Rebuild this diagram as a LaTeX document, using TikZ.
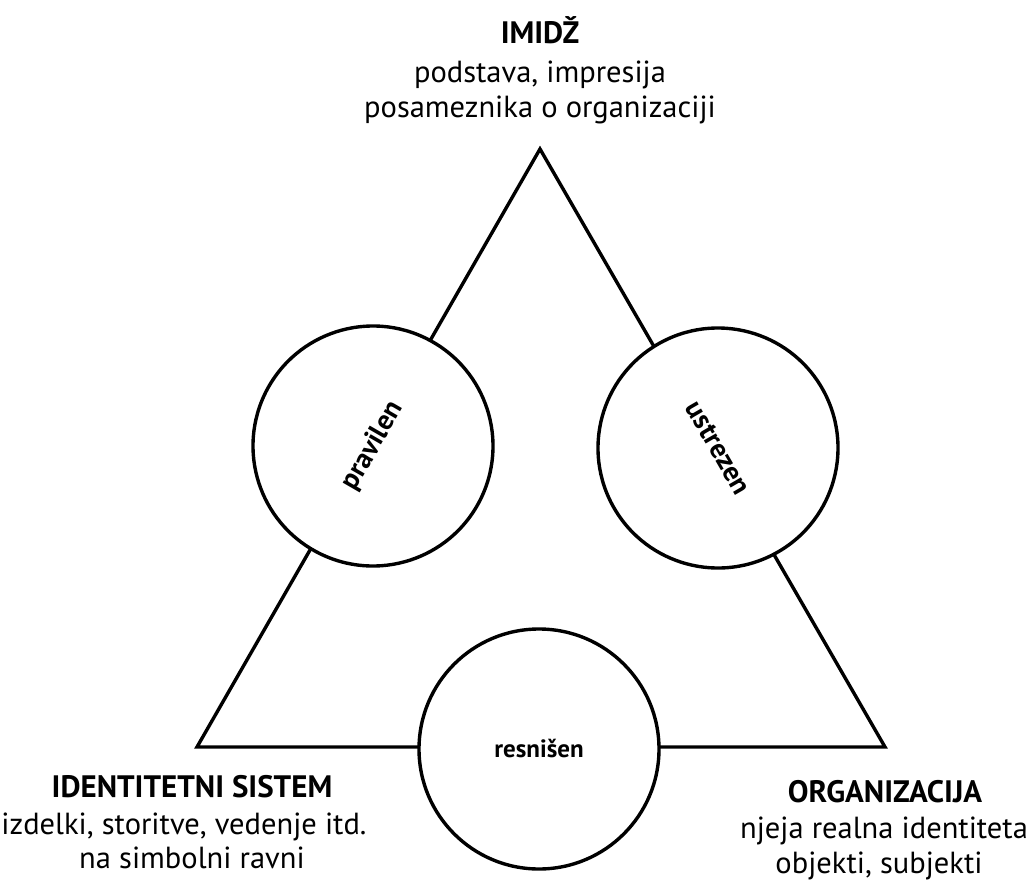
\documentclass[tikz,border=0pt]{standalone}
\usepackage{fontspec}
\setmainfont{PT Sans}
\usetikzlibrary{positioning}

\begin{document}
\begin{tikzpicture}[x=1pt,y=-1pt,
  font=\fontsize{30.5}{34}\selectfont,
  txt/.style={anchor=base,inner sep=0pt},
  head/.style={txt,font=\fontsize{31}{34}\selectfont\bfseries},
  ring/.style={circle,draw,line width=3.4pt,fill=white,minimum size=240pt,inner sep=0pt,
    font=\fontsize{25}{28}\selectfont\bfseries},
  tilted/.style={ring,font=\fontsize{28}{30}\selectfont\bfseries},
  side/.style={line width=3.4pt,line join=miter},
]
\useasboundingbox (0,0) rectangle (1033,886);

\coordinate (apex) at (540,149);
\coordinate (lft) at (197,747);
\coordinate (rgt) at (885,747);

\draw[side] (apex) -- (lft) -- (rgt) -- cycle;

\node[tilted,rotate=60] (pravilen) at (373,446) {pravilen};
\node[tilted,rotate=-60] (ustrezen) at (718,448) {ustrezen};
\node[ring] (resnisen) at (539,749) {resnišen};

% vertex labels
\node[head] (imidz) at (540,43) {IMIDŽ};
\node[txt] (imidz1) at (540,82) {podstava, impresija};
\node[txt] (imidz2) at (540,117) {posameznika o organizaciji};

\node[head] (sistem) at (192,797) {IDENTITETNI SISTEM};
\node[txt] (sistem1) at (184,834) {izdelki, storitve, vedenje itd.};
\node[txt] (sistem2) at (192,868) {na simbolni ravni};

\node[head] (org) at (885,802) {ORGANIZACIJA};
\node[txt] (org1) at (884,838) {njeja realna identiteta};
\node[txt] (org2) at (879,873) {objekti, subjekti};

\end{tikzpicture}
\end{document}
